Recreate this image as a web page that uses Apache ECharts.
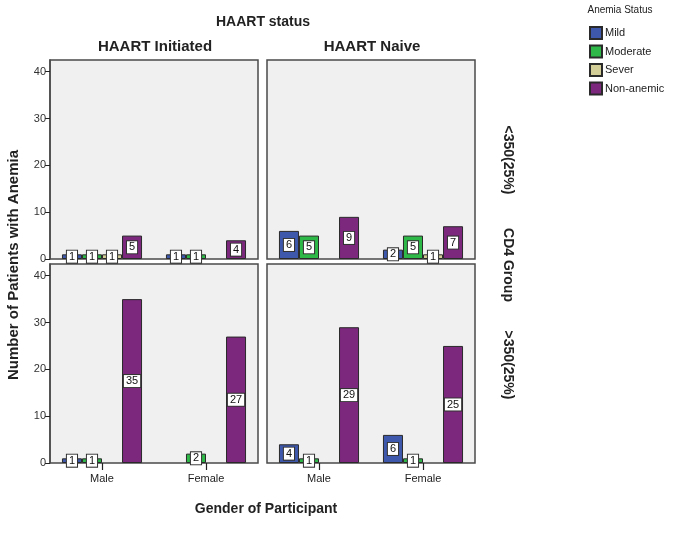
<!DOCTYPE html>
<html><head><meta charset="utf-8">
<script src="https://cdn.jsdelivr.net/npm/echarts@6/dist/echarts.min.js"></script>
<style>html,body{margin:0;padding:0;background:#fff}#c{width:675px;height:544px}</style>
</head><body><div id="c"></div>
<script>
const categories = ['Male', 'Female'];
const seriesNames = ['Mild', 'Moderate', 'Sever', 'Non-anemic'];
const yTicks = [0, 10, 20, 30, 40];
// HAART Initiated, CD4 <350
const mildInitLow = [1, 1];
const moderateInitLow = [1, 1];
const severInitLow = [1, 0];
const nonAnemicInitLow = [5, 4];
// HAART Naive, CD4 <350
const mildNaiveLow = [6, 2];
const moderateNaiveLow = [5, 5];
const severNaiveLow = [0, 1];
const nonAnemicNaiveLow = [9, 7];
// HAART Initiated, CD4 >350
const mildInitHigh = [1, 0];
const moderateInitHigh = [1, 2];
const severInitHigh = [0, 0];
const nonAnemicInitHigh = [35, 27];
// HAART Naive, CD4 >350
const mildNaiveHigh = [4, 6];
const moderateNaiveHigh = [1, 1];
const severNaiveHigh = [0, 0];
const nonAnemicNaiveHigh = [29, 25];

const colors = ['#3E58AC', '#2EB848', '#D3CE97', '#7C287D'];
const font = '"Liberation Sans", Arial, sans-serif';

const panels = [
  [mildInitLow, moderateInitLow, severInitLow, nonAnemicInitLow],
  [mildNaiveLow, moderateNaiveLow, severNaiveLow, nonAnemicNaiveLow],
  [mildInitHigh, moderateInitHigh, severInitHigh, nonAnemicInitHigh],
  [mildNaiveHigh, moderateNaiveHigh, severNaiveHigh, nonAnemicNaiveHigh]
];
const grids = [
  {left: 50, top: 60, width: 208, height: 199},
  {left: 267, top: 60, width: 208, height: 199},
  {left: 50, top: 264, width: 208, height: 199},
  {left: 267, top: 264, width: 208, height: 199}
];

const option = {
  animation: false,
  backgroundColor: '#fff',
  textStyle: {fontFamily: font},
  grid: grids.map(g => Object.assign({show: true, backgroundColor: '#F0F0F0', borderColor: '#4a4a4a', borderWidth: 1.5, containLabel: false}, g)),
  xAxis: grids.map((g, i) => ({
    type: 'category', gridIndex: i, data: categories,
    axisLine: {show: false},
    axisTick: {show: i >= 2, alignWithLabel: true, length: 7, lineStyle: {color: '#222', width: 1.2}},
    axisLabel: {show: i >= 2, color: '#222', fontSize: 11, margin: 10, fontFamily: font}
  })),
  yAxis: grids.map((g, i) => ({
    type: 'value', gridIndex: i, min: 0, max: 42.5,
    splitLine: {show: false},
    axisLine: {show: i % 2 === 0, lineStyle: {color: '#4a4a4a', width: 1.5}},
    axisTick: {show: i % 2 === 0, length: 5, customValues: yTicks, lineStyle: {color: '#222'}},
    axisLabel: {show: i % 2 === 0, customValues: yTicks, color: '#333', fontSize: 11, margin: 4, fontFamily: font}
  })),
  legend: {
    orient: 'vertical', left: 584, top: 21, itemWidth: 12, itemHeight: 12, itemGap: 4.5,
    icon: 'rect', data: seriesNames,
    textStyle: {fontSize: 11, color: '#222', fontFamily: font, padding: [0, 0, 0, -2]}
  },
  series: [],
  graphic: [
    {type: 'text', style: {text: 'HAART status', x: 263, y: 22, fill: '#222', font: 'bold 14px ' + font, textAlign: 'center', textVerticalAlign: 'middle'}},
    {type: 'text', style: {text: 'HAART Initiated', x: 155, y: 47, fill: '#222', font: 'bold 15px ' + font, textAlign: 'center', textVerticalAlign: 'middle'}},
    {type: 'text', style: {text: 'HAART Naive', x: 372, y: 47, fill: '#222', font: 'bold 15px ' + font, textAlign: 'center', textVerticalAlign: 'middle'}},
    {type: 'text', x: 14, y: 265, rotation: Math.PI / 2, style: {text: 'Number of Patients with Anemia', fill: '#222', font: 'bold 15px ' + font, textAlign: 'center', textVerticalAlign: 'middle'}},
    {type: 'text', style: {text: 'Gender of Participant', x: 266, y: 509, fill: '#222', font: 'bold 14px ' + font, textAlign: 'center', textVerticalAlign: 'middle'}},
    {type: 'text', x: 508, y: 160, rotation: -Math.PI / 2, style: {text: '<350(25%)', fill: '#222', font: 'bold 14px ' + font, textAlign: 'center', textVerticalAlign: 'middle'}},
    {type: 'text', x: 508, y: 265, rotation: -Math.PI / 2, style: {text: 'CD4 Group', fill: '#222', font: 'bold 14px ' + font, textAlign: 'center', textVerticalAlign: 'middle'}},
    {type: 'text', x: 508, y: 365, rotation: -Math.PI / 2, style: {text: '>350(25%)', fill: '#222', font: 'bold 14px ' + font, textAlign: 'center', textVerticalAlign: 'middle'}},
    {type: 'text', style: {text: 'Anemia Status', x: 620, y: 10, fill: '#222', font: '10px ' + font, textAlign: 'center', textVerticalAlign: 'middle'}}
  ]
};

panels.forEach((arrs, p) => {
  arrs.forEach((arr, s) => {
    option.series.push({
      type: 'bar', name: seriesNames[s], xAxisIndex: p, yAxisIndex: p,
      data: arr.map(v => ({value: v, label: {show: v > 0}, itemStyle: v > 0 ? {} : {borderWidth: 0}})),
      barGap: '0%', barCategoryGap: '23%',
      itemStyle: {color: colors[s], borderColor: '#2a2a2a', borderWidth: 1},
      label: {
        position: 'inside', color: '#111', fontSize: 11, fontFamily: font,
        backgroundColor: '#fff', borderColor: '#333', borderWidth: 1, padding: [1, 2, 0, 2]
      }
    });
  });
});

const chart = echarts.init(document.getElementById('c'), null, {renderer: 'canvas'});
chart.setOption(option);
</script></body></html>
